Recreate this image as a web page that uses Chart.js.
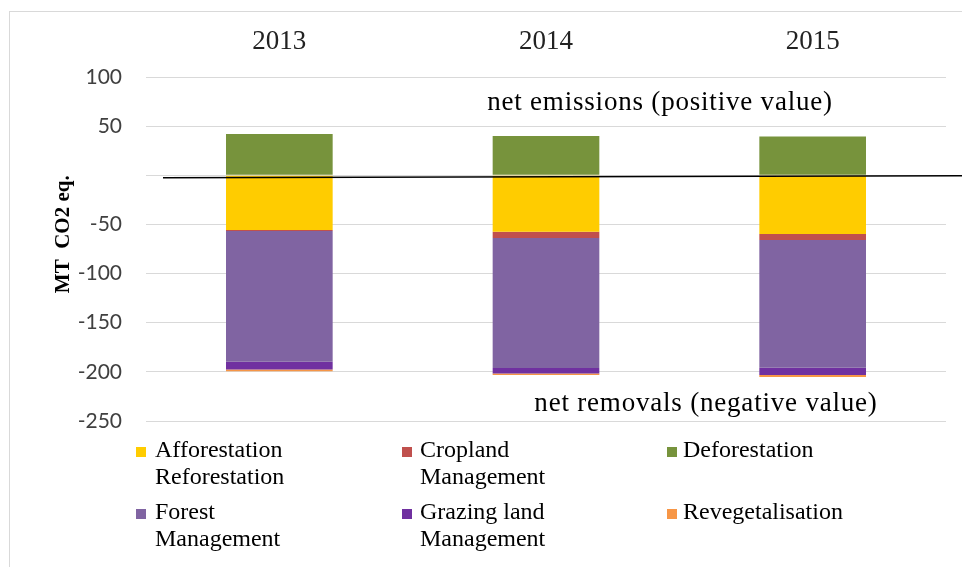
<!DOCTYPE html>
<html>
<head>
<meta charset="utf-8">
<script src="https://cdn.jsdelivr.net/npm/chart.js@4"></script>
<style>
  html, body { margin: 0; padding: 0; background: #fff; }
  #wrap { position: relative; width: 962px; height: 567px; overflow: hidden; }
  #c { position: absolute; left: 0; top: 0; }
  .lg { position: absolute; font-family: 'Liberation Serif', serif; font-size: 24px; line-height: 27px; color: #000; }
  .lg .mk { position: absolute; width: 10px; height: 10px; }
  .lg .tx { position: absolute; width: 175px; font-family: 'Liberation Serif', serif; }
</style>
</head>
<body>
<div id="wrap">
  <canvas id="c" width="962" height="567"></canvas>
</div>
<script>
// ---- data ----
const years = ["2013", "2014", "2015"];
const seriesNames = ["Afforestation Reforestation", "Cropland Management", "Deforestation",
                     "Forest Management", "Grazing land Management", "Revegetalisation"];
const seriesColors = ["#FFCC00", "#C0504D", "#77933C", "#8064A2", "#7030A0", "#F79646"];
const afforestation = [-55.7, -57.5, -59.8];
const cropland = [-1.0, -6.4, -6.1];
const deforestation = [42.0, 40.0, 39.5];
const forestMgmt = [-133.0, -132.2, -129.9];
const grazingMgmt = [-7.8, -5.5, -7.4];
const revegetalisation = [-2.0, -1.6, -2.0];
const yTicks = [100, 50, 0, -50, -100, -150, -200, -250];
const noteTop = "net emissions (positive value)";
const noteBottom = "net removals (negative value)";
const yTitle = "MT  CO2 eq.";

const seriesValues = [afforestation, cropland, deforestation, forestMgmt, grazingMgmt, revegetalisation];

const decor = {
  id: 'decor',
  beforeDraw(chart) {
    const ctx = chart.ctx;
    ctx.save();
    ctx.strokeStyle = '#d9d9d9';
    ctx.lineWidth = 1;
    ctx.strokeRect(9.5, 11.5, 1200, 1200);
    ctx.restore();
  },
  afterDatasetsDraw(chart) {
    const ctx = chart.ctx;
    const a = chart.chartArea;
    const y = chart.scales.y;
    const z = y.getPixelForValue(0);
    ctx.save();
    // zero reference line
    ctx.strokeStyle = '#000';
    ctx.lineWidth = 1.5;
    ctx.beginPath();
    ctx.moveTo(a.left + 17, z + 2.5);
    ctx.lineTo(chart.width, z + 0.5);
    ctx.stroke();
    // notes
    ctx.fillStyle = '#000';
    ctx.font = '27px "Liberation Serif", "Times New Roman", serif';
    try { ctx.letterSpacing = '0.8px'; } catch (e) {}
    ctx.textAlign = 'center';
    ctx.textBaseline = 'middle';
    ctx.fillText(noteTop, a.left + (a.right - a.left) * 0.6425, y.getPixelForValue(74));
    ctx.fillText(noteBottom, a.left + (a.right - a.left) * 0.70, y.getPixelForValue(-233));
    try { ctx.letterSpacing = '0px'; } catch (e) {}
    // y title
    ctx.font = 'bold 21px "Liberation Serif", "Times New Roman", serif';
    ctx.translate(64, y.getPixelForValue(-60));
    ctx.rotate(-Math.PI / 2);
    ctx.fillText(yTitle, 0, 0);
    ctx.restore();
  }
};

new Chart(document.getElementById('c'), {
  type: 'bar',
  data: {
    labels: years,
    datasets: seriesNames.map((n, i) => ({
      label: n,
      data: seriesValues[i],
      backgroundColor: seriesColors[i],
      borderWidth: 0,
      barPercentage: 0.4,
      categoryPercentage: 1.0
    }))
  },
  options: {
    responsive: false,
    animation: false,
    layout: { padding: { left: 0, top: 0, right: 16, bottom: 146 } },
    plugins: { legend: { display: false }, tooltip: { enabled: false } },
    scales: {
      x: {
        position: 'top',
        stacked: true,
        grid: { display: false, drawTicks: false },
        border: { display: false },
        ticks: {
          padding: 19,
          color: '#222',
          font: { family: '"Liberation Serif", "Times New Roman", serif', size: 27 }
        },
        afterFit(s) { s.height = 77; }
      },
      y: {
        stacked: true,
        min: -250, max: 100,
        afterBuildTicks(s) { s.ticks = yTicks.map(v => ({ value: v })); },
        grid: { color: '#d9d9d9', lineWidth: 1, drawTicks: false },
        border: { display: false },
        ticks: {
          padding: 24,
          color: '#404040',
          font: { family: 'Lato, "Liberation Sans", sans-serif', size: 21 },
          callback: v => (v === 0 ? '' : String(v))
        },
        afterFit(s) { s.width = 146; }
      }
    }
  },
  plugins: [decor]
});

// legend (HTML, built from series arrays)
const wrap = document.getElementById('wrap');
const colMarkX = [136, 402, 667];
const colTextX = [155, 420, 683];
const rowTop = [436, 498];
seriesNames.forEach((n, i) => {
  const col = i % 3, row = Math.floor(i / 3);
  const d = document.createElement('div');
  d.className = 'lg';
  d.style.left = '0px';
  d.style.top = rowTop[row] + 'px';
  const m = document.createElement('div');
  m.className = 'mk';
  m.style.left = colMarkX[col] + 'px';
  m.style.top = '11px';
  m.style.background = seriesColors[i];
  const t = document.createElement('div');
  t.className = 'tx';
  t.style.left = colTextX[col] + 'px';
  t.style.top = '0px';
  t.style.fontFamily = "'Liberation Serif', 'Times New Roman', serif";
  t.textContent = n;
  d.appendChild(m);
  d.appendChild(t);
  wrap.appendChild(d);
});
</script>
</body>
</html>
